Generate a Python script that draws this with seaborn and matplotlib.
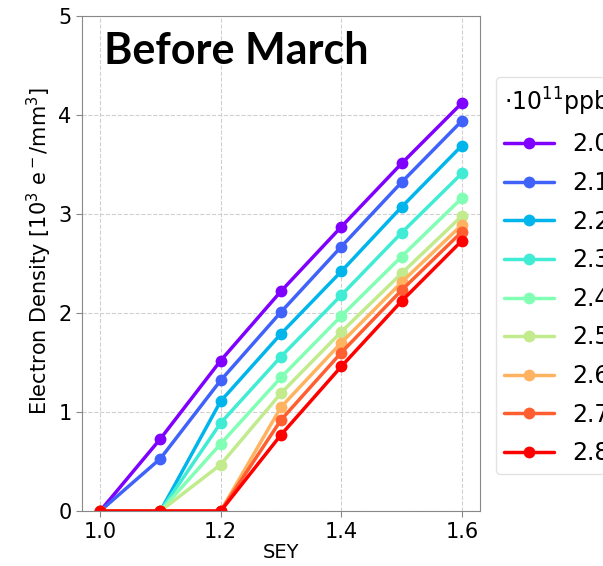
import numpy as np
import pandas as pd
import seaborn as sns
import matplotlib
matplotlib.use('Agg')
import matplotlib.pyplot as plt

sey = [1.0, 1.1, 1.2, 1.3, 1.4, 1.5, 1.6]
intensity = ['2.0', '2.1', '2.2', '2.3', '2.4', '2.5', '2.6', '2.7', '2.8']

density = [
    [0, 0.73, 1.52, 2.22, 2.87, 3.51, 4.12],
    [0, 0.53, 1.32, 2.01, 2.67, 3.32, 3.94],
    [0, 0.00, 1.11, 1.79, 2.42, 3.07, 3.69],
    [0, 0.00, 0.89, 1.56, 2.18, 2.81, 3.41],
    [0, 0.00, 0.68, 1.35, 1.97, 2.57, 3.16],
    [0, 0.00, 0.47, 1.19, 1.81, 2.40, 2.98],
    [0, 0.00, 0.00, 1.05, 1.70, 2.31, 2.89],
    [0, 0.00, 0.00, 0.92, 1.60, 2.23, 2.82],
    [0, 0.00, 0.00, 0.77, 1.46, 2.12, 2.73],
]

rows = []
for lab, ys in zip(intensity, density):
    for x, y in zip(sey, ys):
        rows.append({'SEY': x, 'density': y, 'ppb': lab})
df = pd.DataFrame(rows)

sns.set_style('white')
plt.rcParams['font.family'] = ['DejaVu Sans']
plt.rcParams['text.color'] = 'black'
plt.rcParams['axes.labelcolor'] = 'black'
plt.rcParams['xtick.color'] = 'black'
plt.rcParams['ytick.color'] = 'black'

fig = plt.figure(figsize=(6.03, 5.66), dpi=100)
ax = fig.add_axes([0.136, 0.097, 0.66, 0.875])

palette = [plt.cm.rainbow(v) for v in np.linspace(0, 1, len(intensity))]
sns.lineplot(data=df, x='SEY', y='density', hue='ppb', palette=palette,
             marker='o', markersize=8.5, markeredgewidth=0, linewidth=2.5,
             ax=ax)

ax.set_xlim(0.97, 1.63)
ax.set_ylim(0, 5)
ax.set_xticks([1.0, 1.2, 1.4, 1.6])
ax.set_yticks([0, 1, 2, 3, 4, 5])
ax.grid(True, linestyle='--', color='#d0d0d0', linewidth=0.8)
for s in ax.spines.values():
    s.set_color('#888888')
ax.tick_params(labelsize=15, length=4, color='#888888', direction='out',
               bottom=True, left=True)
ax.set_xlabel('SEY', fontsize=14, labelpad=1)
ax.set_ylabel(r'Electron Density [$10^3$ e$^-$/mm$^3$]', fontsize=15)
ax.yaxis.set_label_coords(-0.07, 0.525)

ax.text(0.055, 0.93, 'Before March', transform=ax.transAxes, fontsize=31,
        fontweight='bold', family=['Lato', 'DejaVu Sans'], va='center',
        color='black')

leg = ax.legend(title=r'$\cdot10^{11}$ppb', loc='upper left',
                bbox_to_anchor=(1.01, 0.9), fontsize=17, title_fontsize=17,
                frameon=True, handlelength=2.1, handletextpad=0.8,
                borderpad=0.35, labelspacing=0.62)
leg.get_frame().set_edgecolor('#dddddd')

fig.savefig('out.png', dpi=100)
